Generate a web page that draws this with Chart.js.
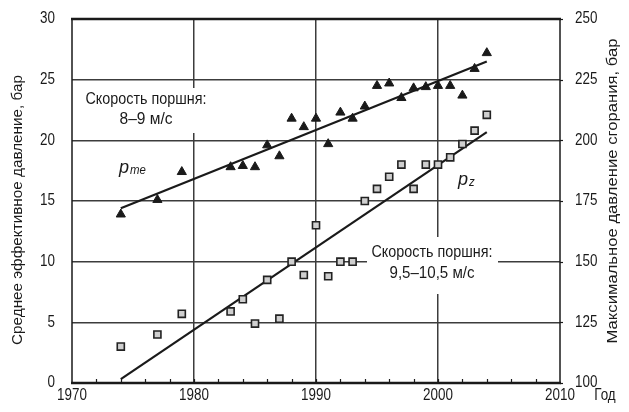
<!DOCTYPE html>
<html>
<head>
<meta charset="utf-8">
<script src="https://cdn.jsdelivr.net/npm/chart.js@4/dist/chart.umd.min.js"></script>
<style>
  html, body { margin: 0; padding: 0; background: #fff; }
  #wrap { width: 629px; height: 412px; }
</style>
</head>
<body>
<div id="wrap"><canvas id="c" width="629" height="412"></canvas></div>
<script>
// Years of observation
const years = [1974, 1977, 1979, 1983, 1984, 1985, 1986, 1987, 1988, 1989, 1990, 1991, 1992,
               1993, 1994, 1995, 1996, 1997, 1998, 1999, 2000, 2001, 2002, 2003, 2004];
// Mean effective pressure p_me, bar (left axis)
const pmeValues = [13.9, 15.1, 17.4, 17.8, 17.9, 17.8, 19.6, 18.7, 21.8, 21.1, 21.8, 19.7, 22.3,
                   21.8, 22.8, 24.5, 24.7, 23.5, 24.3, 24.4, 24.5, 24.5, 23.7, 25.9, 27.2];
// Maximum combustion pressure p_z, bar (right axis)
const pzValues = [115, 120, 128.5, 129.5, 134.5, 124.5, 142.5, 126.5, 150, 144.5, 165, 144, 150,
                  150, 175, 180, 185, 190, 180, 190, 190, 193, 198.5, 204, 210.5];
// Trend lines (end points)
const trendYears = [1974, 2004];
const pmeTrend = [14.4, 26.5];
const pzTrend = [101.6, 203.4];
// Tick labels
const xTicks = [1970, 1980, 1990, 2000, 2010];
const leftTicks = [0, 5, 10, 15, 20, 25, 30];
const rightTicks = [100, 125, 150, 175, 200, 225, 250];

const FONT = "'Liberation Sans', Arial, sans-serif";
const INK = '#1a1a1a';
const GRID = '#3c3c3c';
const NARROW = 0.84;   // horizontal squeeze for a narrow typeface look

const pts = (xs, ys) => xs.map((x, i) => ({ x, y: ys[i] }));

// Draw a string with optional horizontal squeeze / fit to a width / rotation
function text(ctx, str, x, y, o = {}) {
  const size = o.size || 16;
  ctx.save();
  ctx.font = `${o.italic ? 'italic ' : ''}${size}px ${FONT}`;
  let sx = o.sx || NARROW;
  if (o.width) sx = o.width / ctx.measureText(str).width;
  ctx.translate(x, y);
  if (o.rot) ctx.rotate(o.rot);
  ctx.scale(sx, 1);
  ctx.textAlign = o.align || 'center';
  ctx.textBaseline = o.baseline || 'middle';
  ctx.fillStyle = INK;
  ctx.fillText(str, 0, 0);
  const w = ctx.measureText(str).width * sx;
  ctx.restore();
  return w;
}

// Frame, minor ticks, tick labels, annotations and axis titles
const decor = {
  id: 'decor',
  beforeDatasetsDraw(chart) {
    const { ctx, chartArea: a, scales } = chart;
    const sx = scales.x, sy = scales.y, sy2 = scales.y2;
    ctx.save();

    // white boxes behind the annotation text
    ctx.fillStyle = '#fff';
    ctx.fillRect(80, 88, 130, 45);
    ctx.fillRect(367, 237, 131, 57);
    ctx.fillRect(112, 155, 40, 26);
    ctx.fillRect(452, 168, 30, 24);

    // minor ticks on the year axis, pointing inward
    ctx.strokeStyle = INK;
    ctx.lineWidth = 1.2;
    for (let yr = 1972; yr < 2010; yr += 2) {
      const px = Math.round(sx.getPixelForValue(yr)) + 0.5;
      ctx.beginPath();
      ctx.moveTo(px, a.bottom);
      ctx.lineTo(px, a.bottom - 4);
      ctx.stroke();
    }
    // short ticks on the right border
    for (const v of rightTicks) {
      const py = Math.round(sy2.getPixelForValue(v)) + 0.5;
      ctx.beginPath();
      ctx.moveTo(a.right, py);
      ctx.lineTo(a.right + 3, py);
      ctx.stroke();
    }

    // frame
    ctx.lineWidth = 1.5;
    ctx.strokeRect(a.left, a.top, a.right - a.left, a.bottom - a.top);
    ctx.lineWidth = 2.5;
    ctx.beginPath();
    ctx.moveTo(a.left - 1, a.top); ctx.lineTo(a.right + 1, a.top);
    ctx.moveTo(a.left - 1, a.bottom); ctx.lineTo(a.right + 1, a.bottom);
    ctx.stroke();
    ctx.restore();

    // tick labels
    for (const v of leftTicks) text(ctx, String(v), 55, sy.getPixelForValue(v), { align: 'right' });
    for (const v of rightTicks) text(ctx, String(v), 575, sy2.getPixelForValue(v), { align: 'left' });
    for (const v of xTicks) text(ctx, String(v), sx.getPixelForValue(v), 396);
    text(ctx, 'Год', 605, 396);

    // annotations
    const k = text(ctx, '', 0, 0) || 0;
    text(ctx, 'Скорость поршня:', 146, 100, { width: 121 });
    text(ctx, '8–9 м/с', 146, 120, { width: 53 });
    text(ctx, 'Скорость поршня:', 432, 253, { width: 121 });
    text(ctx, '9,5–10,5 м/с', 432, 274, { width: 85 });

    // series labels p_me and p_z
    let w = text(ctx, 'p', 119, 173, { size: 19, italic: true, align: 'left', baseline: 'alphabetic', sx: 0.95 });
    text(ctx, 'me', 119 + w + 1, 174, { size: 12, italic: true, align: 'left', baseline: 'alphabetic', sx: 0.95 });
    w = text(ctx, 'p', 458, 185, { size: 19, italic: true, align: 'left', baseline: 'alphabetic', sx: 0.95 });
    text(ctx, 'z', 458 + w + 1, 186, { size: 12, italic: true, align: 'left', baseline: 'alphabetic', sx: 0.95 });

    // axis titles
    text(ctx, 'Среднее эффективное давление, бар', 18, 210, { size: 15, rot: -Math.PI / 2, width: 270 });
    text(ctx, 'Максимальное давление сгорания, бар', 613, 191, { size: 15, rot: -Math.PI / 2, width: 305 });
  }
};

const gridAt = (list) => (c) => list.includes(c.tick.value) ? GRID : 'rgba(0,0,0,0)';

new Chart(document.getElementById('c'), {
  type: 'scatter',
  data: {
    datasets: [
      {
        label: 'p_me trend',
        data: pts(trendYears, pmeTrend),
        showLine: true, pointRadius: 0, borderColor: INK, borderWidth: 2.2,
        yAxisID: 'y', order: 3
      },
      {
        label: 'p_z trend',
        data: pts(trendYears, pzTrend),
        showLine: true, pointRadius: 0, borderColor: INK, borderWidth: 2.2,
        yAxisID: 'y2', order: 3
      },
      {
        label: 'p_me',
        data: pts(years, pmeValues),
        pointStyle: 'triangle', pointRadius: 5.3,
        backgroundColor: INK, borderColor: INK, borderWidth: 1,
        yAxisID: 'y', order: 1
      },
      {
        label: 'p_z',
        data: pts(years, pzValues),
        pointStyle: 'rect', pointRadius: 5,
        backgroundColor: '#cfcfcf', borderColor: '#222', borderWidth: 1.6,
        yAxisID: 'y2', order: 2
      }
    ]
  },
  options: {
    responsive: false,
    animation: false,
    events: [],
    layout: { padding: { top: 19, left: 0, right: 0, bottom: 0 } },
    plugins: { legend: { display: false }, tooltip: { enabled: false } },
    scales: {
      x: {
        type: 'linear', min: 1970, max: 2010,
        afterBuildTicks: (s) => { s.ticks = xTicks.map(v => ({ value: v })); },
        ticks: { display: false },
        grid: { color: gridAt([1980, 1990, 2000]), lineWidth: 1.5, drawTicks: false },
        border: { display: false },
        afterFit: (s) => { s.height = 29; }
      },
      y: {
        position: 'left', min: 0, max: 30,
        afterBuildTicks: (s) => { s.ticks = leftTicks.map(v => ({ value: v })); },
        ticks: { display: false },
        grid: { color: gridAt([5, 10, 15, 20, 25]), lineWidth: 1.5, drawTicks: false },
        border: { display: false },
        afterFit: (s) => { s.width = 72; }
      },
      y2: {
        position: 'right', min: 100, max: 250,
        afterBuildTicks: (s) => { s.ticks = rightTicks.map(v => ({ value: v })); },
        ticks: { display: false },
        grid: { display: false, drawTicks: false },
        border: { display: false },
        afterFit: (s) => { s.width = 69; }
      }
    }
  },
  plugins: [decor]
});
</script>
</body>
</html>
